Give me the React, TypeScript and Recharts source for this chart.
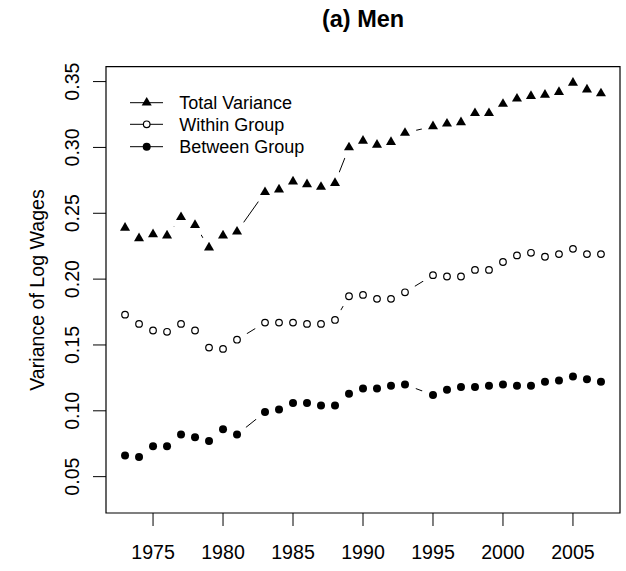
import { LineChart, Line, XAxis, YAxis, ReferenceArea } from 'recharts'

// survey years (1982 and 1994 are not in the series)
const years = [
  1973, 1974, 1975, 1976, 1977, 1978, 1979, 1980, 1981,
  1983, 1984, 1985, 1986, 1987, 1988, 1989, 1990, 1991, 1992, 1993,
  1995, 1996, 1997, 1998, 1999, 2000, 2001, 2002, 2003, 2004, 2005, 2006, 2007,
]

const totalVariance = [
  0.239, 0.231, 0.234, 0.233, 0.247, 0.241, 0.224, 0.233, 0.236,
  0.266, 0.268, 0.274, 0.272, 0.270, 0.273, 0.300, 0.305, 0.302, 0.304, 0.311,
  0.316, 0.318, 0.319, 0.326, 0.326, 0.333, 0.337, 0.339, 0.340, 0.342, 0.349, 0.344, 0.341,
]

const withinGroup = [
  0.173, 0.166, 0.161, 0.160, 0.166, 0.161, 0.148, 0.147, 0.154,
  0.167, 0.167, 0.167, 0.166, 0.166, 0.169, 0.187, 0.188, 0.185, 0.185, 0.190,
  0.203, 0.202, 0.202, 0.207, 0.207, 0.213, 0.218, 0.220, 0.217, 0.219, 0.223, 0.219, 0.219,
]

const betweenGroup = [
  0.066, 0.065, 0.073, 0.073, 0.082, 0.080, 0.077, 0.086, 0.082,
  0.099, 0.101, 0.106, 0.106, 0.104, 0.104, 0.113, 0.117, 0.117, 0.119, 0.120,
  0.112, 0.116, 0.118, 0.118, 0.119, 0.120, 0.119, 0.119, 0.122, 0.123, 0.126, 0.124, 0.122,
]

const xTicks = [1975, 1980, 1985, 1990, 1995, 2000, 2005]
const yTicks = [0.05, 0.1, 0.15, 0.2, 0.25, 0.3, 0.35]

const data = years.map((year, i) => ({
  year,
  total: totalVariance[i],
  within: withinGroup[i],
  between: betweenGroup[i],
}))

const FONT = '"Liberation Sans", Arial, Helvetica, sans-serif'
const X_DOMAIN: [number, number] = [1971.64, 2008.36]
const Y_DOMAIN: [number, number] = [0.0224, 0.3613]

// white disc under each point, gives the R type="b" gaps in the line
const haloDot = (p: any) => (
  <circle key={`h-${p.index}`} cx={p.cx} cy={p.cy} r={11.5} fill="#fff" stroke="none" />
)

const triangle = (cx: number, cy: number, r = 5.8) =>
  `M${cx},${cy - r} L${cx + r * 0.866},${cy + r / 2} L${cx - r * 0.866},${cy + r / 2} Z`

const triangleDot = (p: any) => <path key={`t-${p.index}`} d={triangle(p.cx, p.cy)} fill="#000" />
const openDot = (p: any) => (
  <circle key={`o-${p.index}`} cx={p.cx} cy={p.cy} r={3.3} fill="none" stroke="#000" strokeWidth={1.2} />
)
const solidDot = (p: any) => <circle key={`s-${p.index}`} cx={p.cx} cy={p.cy} r={4} fill="#000" />

const XTick = (p: any) => (
  <text x={p.x} y={559} textAnchor="middle" fontSize={19.6} fontFamily={FONT} fill="#000">
    {p.payload.value}
  </text>
)

const YTick = (p: any) => (
  <text
    transform={`translate(79,${p.y}) rotate(-90)`}
    textAnchor="middle"
    fontSize={19.6}
    fontFamily={FONT}
    fill="#000"
  >
    {p.payload.value.toFixed(2)}
  </text>
)

const legendRows = [
  { label: 'Total Variance', y: 102.7, kind: 'tri' },
  { label: 'Within Group', y: 124.3, kind: 'open' },
  { label: 'Between Group', y: 146.7, kind: 'solid' },
]

export default function App() {
  return (
    <div style={{ position: 'absolute', left: 0, top: 0, width: 626, height: 571, background: '#fff' }}>
      <LineChart width={626} height={571} data={data} margin={{ top: 66.7, right: 6, bottom: 0, left: 0 }}>
        <XAxis
          dataKey="year"
          type="number"
          domain={X_DOMAIN}
          allowDataOverflow
          ticks={xTicks}
          height={58}
          tickSize={13}
          axisLine={false}
          tickLine={{ stroke: '#000' }}
          tick={<XTick />}
        />
        <YAxis
          type="number"
          domain={Y_DOMAIN}
          allowDataOverflow
          ticks={yTicks}
          width={106}
          tickSize={13}
          axisLine={false}
          tickLine={{ stroke: '#000' }}
          tick={<YTick />}
        />
        <ReferenceArea
          x1={X_DOMAIN[0]}
          x2={X_DOMAIN[1]}
          y1={Y_DOMAIN[0]}
          y2={Y_DOMAIN[1]}
          fill="none"
          stroke="#000"
          strokeWidth={1.2}
          ifOverflow="visible"
        />
        <Line dataKey="total" type="linear" stroke="#000" strokeWidth={1} dot={haloDot} activeDot={false} isAnimationActive={false} />
        <Line dataKey="total" type="linear" stroke="none" dot={triangleDot} activeDot={false} isAnimationActive={false} />
        <Line dataKey="within" type="linear" stroke="#000" strokeWidth={1} dot={haloDot} activeDot={false} isAnimationActive={false} />
        <Line dataKey="within" type="linear" stroke="none" dot={openDot} activeDot={false} isAnimationActive={false} />
        <Line dataKey="between" type="linear" stroke="#000" strokeWidth={1} dot={haloDot} activeDot={false} isAnimationActive={false} />
        <Line dataKey="between" type="linear" stroke="none" dot={solidDot} activeDot={false} isAnimationActive={false} />
      </LineChart>

      <svg width={626} height={571} style={{ position: 'absolute', left: 0, top: 0, pointerEvents: 'none' }}>
        <text x={363} y={26.5} textAnchor="middle" fontSize={23.5} fontWeight="bold" fontFamily={FONT} fill="#000">
          (a) Men
        </text>
        <text transform="translate(44,290) rotate(-90)" textAnchor="middle" fontSize={19.6} fontFamily={FONT} fill="#000">
          Variance of Log Wages
        </text>
        {legendRows.map((row) => (
          <g key={row.label}>
            <line x1={130} x2={163} y1={row.y} y2={row.y} stroke="#000" strokeWidth={1} />
            {row.kind === 'tri' && <path d={triangle(146.7, row.y)} fill="#000" />}
            {row.kind === 'open' && <circle cx={146.7} cy={row.y} r={3.3} fill="#fff" stroke="#000" strokeWidth={1.2} />}
            {row.kind === 'solid' && <circle cx={146.7} cy={row.y} r={4} fill="#000" />}
            <text x={179.3} y={row.y + 6.5} fontSize={18} fontFamily={FONT} fill="#000">
              {row.label}
            </text>
          </g>
        ))}
      </svg>
    </div>
  )
}
